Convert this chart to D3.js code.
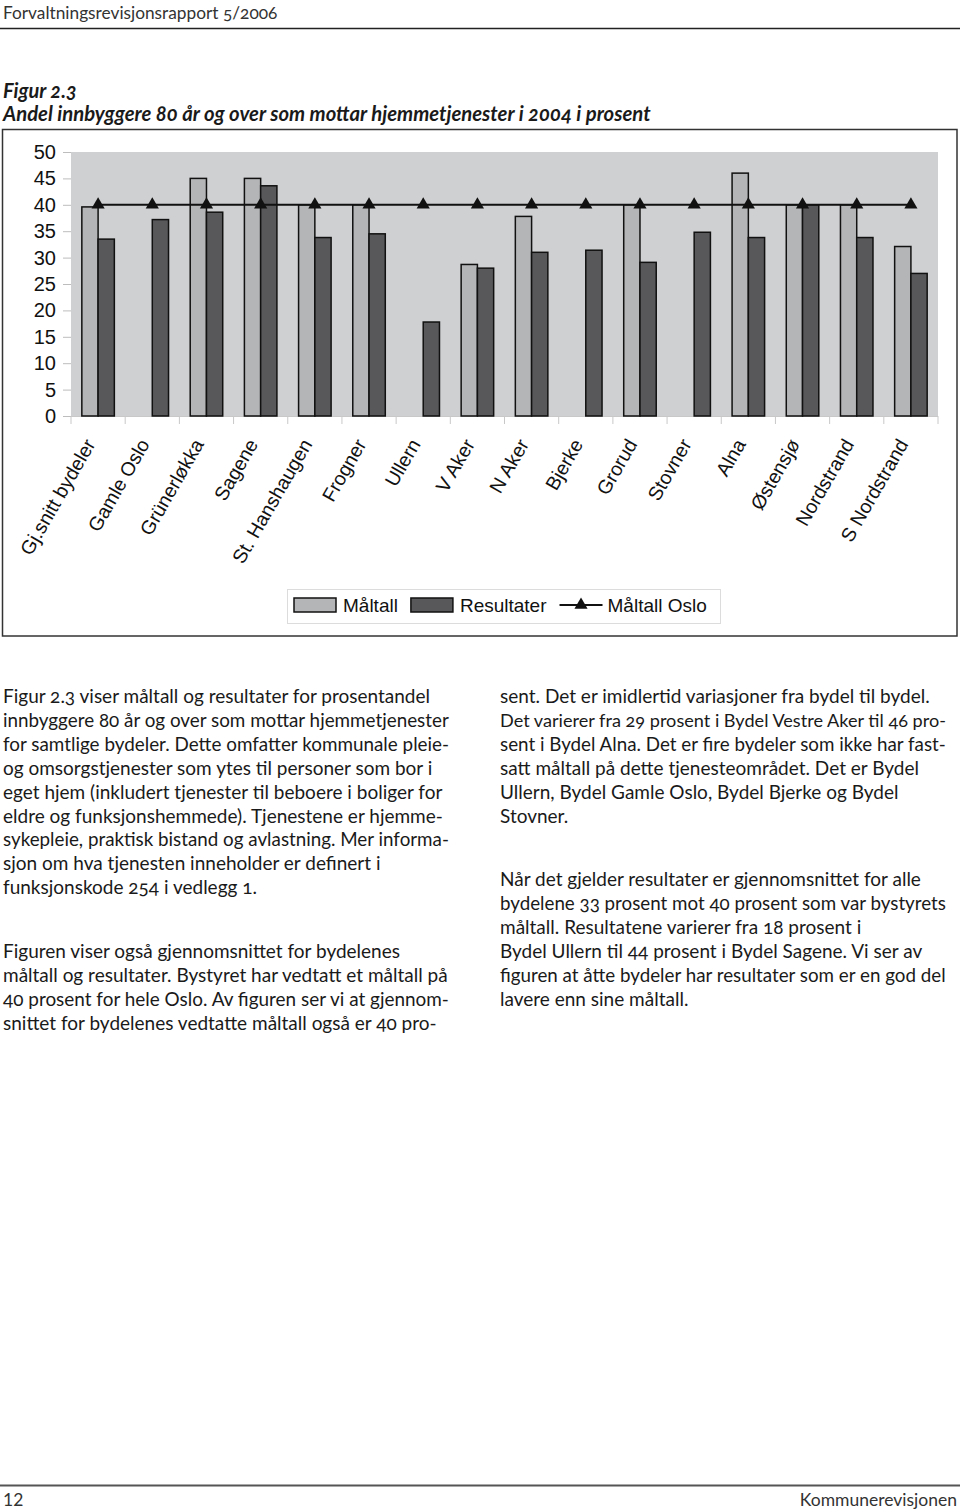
<!DOCTYPE html>
<html>
<head>
<meta charset="utf-8">
<script src="https://cdn.jsdelivr.net/npm/d3@7"></script>
<style>
  html, body { margin: 0; padding: 0; background: #fff; }
  svg { display: block; }
  .body { font-family: Lato, "Noto Sans", sans-serif; font-size: 19px; fill: #1a1a1a; font-variant-numeric: oldstyle-nums; font-feature-settings: "onum" 1; }
  .lining { font-variant-numeric: lining-nums; font-feature-settings: "lnum" 1; }
  .chart text { font-family: "Liberation Sans", Arial, sans-serif; fill: #111; }
</style>
</head>
<body>
<div id="page"></div>
<script>
// ---------- DATA ----------
const categories = ["Gj.snitt bydeler", "Gamle Oslo", "Grünerløkka", "Sagene", "St. Hanshaugen", "Frogner", "Ullern", "V Aker", "N Aker", "Bjerke", "Grorud", "Stovner", "Alna", "Østensjø", "Nordstrand", "S Nordstrand"];
const maltall    = [39.6, null, 45.0, 45.0, 40.0, 40.0, null, 28.7, 37.8, null, 40.0, null, 46.0, 40.0, 40.0, 32.1];
const resultater = [33.5, 37.2, 38.6, 43.6, 33.8, 34.5, 17.8, 28.0, 31.0, 31.4, 29.1, 34.8, 33.8, 40.0, 33.8, 27.0];
const maltallOslo = [40, 40, 40, 40, 40, 40, 40, 40, 40, 40, 40, 40, 40, 40, 40, 40];
const yTicks = [0, 5, 10, 15, 20, 25, 30, 35, 40, 45, 50];
const seriesNames = ["Måltall", "Resultater", "Måltall Oslo"];

const headerText = "Forvaltningsrevisjonsrapport 5/2006";
const figLabel = "Figur 2.3";
const figTitle = "Andel innbyggere 80 år og over som mottar hjemmetjenester i 2004 i prosent";
const leftPara1 = [
  "Figur 2.3 viser måltall og resultater for prosentandel",
  "innbyggere 80 år og over som mottar hjemmetjenester",
  "for samtlige bydeler. Dette omfatter kommunale pleie-",
  "og omsorgstjenester som ytes til personer som bor i",
  "eget hjem (inkludert tjenester til beboere i boliger for",
  "eldre og funksjonshemmede). Tjenestene er hjemme-",
  "sykepleie, praktisk bistand og avlastning. Mer informa-",
  "sjon om hva tjenesten inneholder er definert i",
  "funksjonskode 254 i vedlegg 1."
];
const leftPara2 = [
  "Figuren viser også gjennomsnittet for bydelenes",
  "måltall og resultater. Bystyret har vedtatt et måltall på",
  "40 prosent for hele Oslo. Av figuren ser vi at gjennom-",
  "snittet for bydelenes vedtatte måltall også er 40 pro-"
];
const rightPara1 = [
  "sent. Det er imidlertid variasjoner fra bydel til bydel.",
  "Det varierer fra 29 prosent i Bydel Vestre Aker til 46 pro-",
  "sent i Bydel Alna. Det er fire bydeler som ikke har fast-",
  "satt måltall på dette tjenesteområdet. Det er Bydel",
  "Ullern, Bydel Gamle Oslo, Bydel Bjerke og Bydel",
  "Stovner."
];
const rightPara2 = [
  "Når det gjelder resultater er gjennomsnittet for alle",
  "bydelene 33 prosent mot 40 prosent som var bystyrets",
  "måltall. Resultatene varierer fra 18 prosent i",
  "Bydel Ullern til 44 prosent i Bydel Sagene. Vi ser av",
  "figuren at åtte bydeler har resultater som er en god del",
  "lavere enn sine måltall."
];
const footerLeft = "12";
const footerRight = "Kommunerevisjonen";

// ---------- LAYOUT ----------
const W = 960, H = 1512;
const svg = d3.select("#page").append("svg").attr("width", W).attr("height", H);
svg.append("rect").attr("width", W).attr("height", H).attr("fill", "#fff");

// header
svg.append("text").attr("x", 3).attr("y", 19).attr("class", "body")
  .style("font-size", "17.3px").style("fill", "#333").text(headerText);
svg.append("line").attr("x1", 0).attr("x2", W).attr("y1", 28.5).attr("y2", 28.5)
  .attr("stroke", "#222").attr("stroke-width", 1.3);

svg.append("text").attr("x", 3).attr("y", 98).attr("class", "body")
  .style("font-weight", "bold").style("font-style", "italic").style("font-size", "20px").text(figLabel);
svg.append("text").attr("x", 3).attr("y", 121).attr("class", "body")
  .style("font-weight", "bold").style("font-style", "italic").style("font-size", "20.3px").text(figTitle);

// ---------- CHART ----------
const chart = svg.append("g").attr("class", "chart");
chart.append("rect").attr("x", 2.5).attr("y", 129.5).attr("width", 954.5).attr("height", 506.5)
  .attr("fill", "#fff").attr("stroke", "#333").attr("stroke-width", 1.5);

const plot = { left: 71, right: 938, top: 152, bottom: 416 };
const x = d3.scaleBand().domain(categories).range([plot.left, plot.right]).padding(0);
const y = d3.scaleLinear().domain([0, 50]).range([plot.bottom, plot.top]);
const groupFrac = 0.6;
const inner = d3.scaleBand().domain(["Måltall", "Resultater"])
  .range([x.bandwidth() * (1 - groupFrac) / 2, x.bandwidth() * (1 + groupFrac) / 2]).padding(0);

chart.append("rect").attr("x", plot.left).attr("y", plot.top)
  .attr("width", plot.right - plot.left).attr("height", plot.bottom - plot.top)
  .attr("fill", "#cfd0d2");

// y axis
const yAxis = d3.axisLeft(y).tickValues(yTicks).tickSize(8).tickPadding(7);
const gy = chart.append("g").attr("transform", `translate(${plot.left},0)`).call(yAxis);
gy.select(".domain").remove();
gy.selectAll(".tick line").attr("stroke", "#bdbdbd");
gy.selectAll(".tick text").style("font-size", "20px").style("font-family", "Liberation Sans, Arial, sans-serif").attr("fill", "#111");

// x axis (ticks at category boundaries)
const gx = chart.append("g").attr("transform", `translate(0,${plot.bottom})`);
const boundaries = categories.map(c => x(c)).concat([plot.right]);
gx.append("line").attr("x1", plot.left).attr("x2", plot.right).attr("y1", 0.5).attr("y2", 0.5).attr("stroke", "#c8c8c8");
gx.selectAll("line.tk").data(boundaries).join("line").attr("class", "tk")
  .attr("x1", d => d).attr("x2", d => d).attr("y1", 0).attr("y2", 8).attr("stroke", "#c8c8c8");
gx.selectAll("text.cat").data(categories).join("text").attr("class", "cat")
  .attr("transform", d => `translate(${x(d) + x.bandwidth() / 2 - 2},${28}) rotate(-60)`)
  .attr("text-anchor", "end")
  .style("font-size", "19.5px")
  .text(d => d);

// bars
const barData = [];
categories.forEach((c, i) => {
  if (maltall[i] != null) barData.push({ c, s: "Måltall", v: maltall[i] });
  if (resultater[i] != null) barData.push({ c, s: "Resultater", v: resultater[i] });
});
const fills = { "Måltall": "#b4b5b7", "Resultater": "#58585b" };
chart.append("g").selectAll("rect").data(barData).join("rect")
  .attr("x", d => x(d.c) + inner(d.s))
  .attr("y", d => y(d.v))
  .attr("width", inner.bandwidth())
  .attr("height", d => y(0) - y(d.v))
  .attr("fill", d => fills[d.s])
  .attr("stroke", "#111").attr("stroke-width", 1.5);

// line series
const cx = c => x(c) + x.bandwidth() / 2;
const lineGen = d3.line().x((d, i) => cx(categories[i])).y(d => y(d));
chart.append("path").datum(maltallOslo).attr("d", lineGen)
  .attr("fill", "none").attr("stroke", "#111").attr("stroke-width", 2);
const tri = d3.symbol().type(d3.symbolTriangle).size(75);
chart.append("g").selectAll("path").data(maltallOslo).join("path")
  .attr("transform", (d, i) => `translate(${cx(categories[i])},${y(d)})`)
  .attr("d", tri).attr("fill", "#111");

// legend
const lg = chart.append("g");
lg.append("rect").attr("x", 287.5).attr("y", 589.5).attr("width", 433).attr("height", 34)
  .attr("fill", "#fff").attr("stroke", "#dcdcdc").attr("stroke-width", 1);
let lx = 294;
const ly = 605;
[seriesNames[0], seriesNames[1]].forEach(name => {
  lg.append("rect").attr("x", lx).attr("y", ly - 7).attr("width", 42).attr("height", 14)
    .attr("fill", fills[name]).attr("stroke", "#111").attr("stroke-width", 1.5);
  const t = lg.append("text").attr("x", lx + 49).attr("y", ly + 7).style("font-size", "19px").text(name);
  lx = lx + 49 + t.node().getComputedTextLength() + 13;
});
lg.append("line").attr("x1", lx).attr("x2", lx + 43).attr("y1", ly).attr("y2", ly)
  .attr("stroke", "#111").attr("stroke-width", 2);
lg.append("path").attr("transform", `translate(${lx + 21.5},${ly})`).attr("d", tri).attr("fill", "#111");
lg.append("text").attr("x", lx + 48).attr("y", ly + 7).style("font-size", "19px").text(seriesNames[2]);

// ---------- BODY TEXT ----------
function para(lines, x0, firstBaseline, lh, maxW) {
  const g = svg.append("g");
  g.selectAll("text").data(lines).join("text").attr("class", "body")
    .attr("x", x0).attr("y", (d, i) => firstBaseline + i * lh).text(d => d)
    .each(function () {
      const len = this.getComputedTextLength();
      if (len > maxW) d3.select(this).style("font-size", (19 * maxW / len).toFixed(2) + "px");
    });
}
para(leftPara1, 3, 703, 23.9, 446);
para(leftPara2, 3, 958, 23.9, 446);
para(rightPara1, 500, 703, 23.9, 446);
para(rightPara2, 500, 886, 23.9, 446);

// footer
svg.append("line").attr("x1", 0).attr("x2", W).attr("y1", 1485.5).attr("y2", 1485.5)
  .attr("stroke", "#555").attr("stroke-width", 2);
svg.append("text").attr("x", 3).attr("y", 1506).attr("class", "body lining").style("font-size", "17.5px").style("fill", "#333").text(footerLeft);
svg.append("text").attr("x", 957).attr("y", 1506).attr("text-anchor", "end").attr("class", "body lining").style("font-size", "17.5px").style("fill", "#333").text(footerRight);
</script>
</body>
</html>
